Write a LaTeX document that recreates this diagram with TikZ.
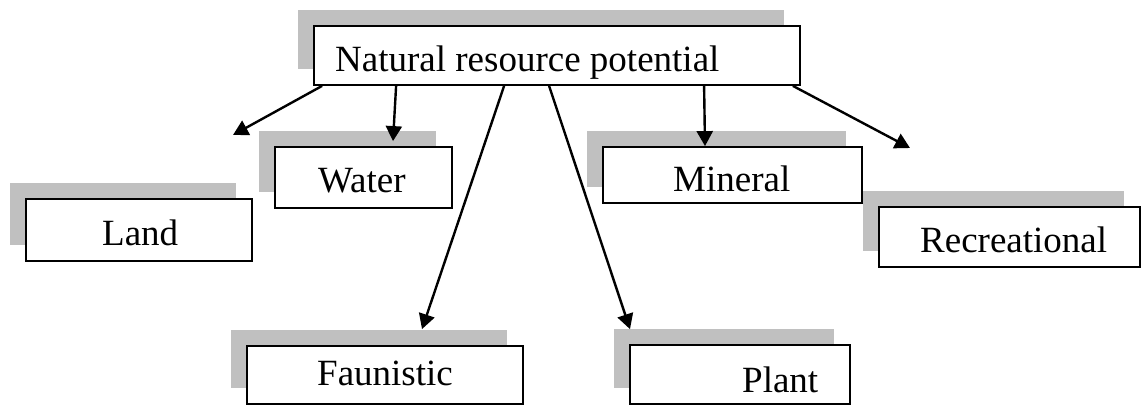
\documentclass[tikz,border=0pt]{standalone}
\usepackage{fontspec}
\setmainfont{Liberation Serif}
\usetikzlibrary{arrows.meta,shadows}
\definecolor{shadegray}{HTML}{C0C0C0}
\begin{document}
\begin{tikzpicture}[x=1pt,y=-1pt,
  resbox/.style={draw=black, line width=1.8pt, fill=white, rectangle, inner sep=0pt,
    copy shadow={shadow xshift=-16pt, shadow yshift=16pt, fill=shadegray, draw=none}},
  restext/.style={anchor=base west, inner sep=0pt, font=\fontsize{37}{44}\selectfont},
  link/.style={line width=2.4pt, -{Triangle[length=15pt,width=16pt]}}]
\useasboundingbox (0,0) rectangle (1142,406);

% boxes
\node[resbox, minimum width=486pt, minimum height=59pt] (main) at (557,55.5) {};
\node[resbox, minimum width=226pt, minimum height=62pt] (land) at (139,230) {};
\node[resbox, minimum width=177pt, minimum height=61pt] (water) at (363.5,177.5) {};
\node[resbox, minimum width=259pt, minimum height=56pt] (mineral) at (732.5,175) {};
\node[resbox, minimum width=261pt, minimum height=60pt] (recr) at (1009.5,237) {};
\node[resbox, minimum width=276pt, minimum height=58pt] (faun) at (385,375) {};
\node[resbox, minimum width=220pt, minimum height=59pt] (plant) at (740,374.5) {};

% labels
\node[restext] (main-t) at (335,72) {Natural resource potential};
\node[restext] (land-t) at (102,245) {Land};
\node[restext] (water-t) at (318,193) {Water};
\node[restext] (mineral-t) at (673,192) {Mineral};
\node[restext] (recr-t) at (920,252) {Recreational};
\node[restext] (faun-t) at (317,385) {Faunistic};
\node[restext] (plant-t) at (742,392) {Plant};

% free arrow ends
\coordinate (land-tip) at (233,135);
\coordinate (recr-tip) at (910,148);

% connectors
\draw[link] ([xshift=9pt]main.south west) -- (land-tip);
\draw[link] ([xshift=83pt]main.south west) -- ([xshift=29.5pt,yshift=5pt]water.north);
\draw[link] ([xshift=191pt]main.south west) -- ([xshift=37pt,yshift=16pt]faun.north);
\draw[link] ([xshift=236pt]main.south west) -- ([xshift=-110pt,yshift=15pt]plant.north);
\draw[link] ([xshift=391pt]main.south west) -- ([xshift=-27.5pt]mineral.north);
\draw[link] ([xshift=-8pt]main.south east) -- (recr-tip);
\end{tikzpicture}
\end{document}
